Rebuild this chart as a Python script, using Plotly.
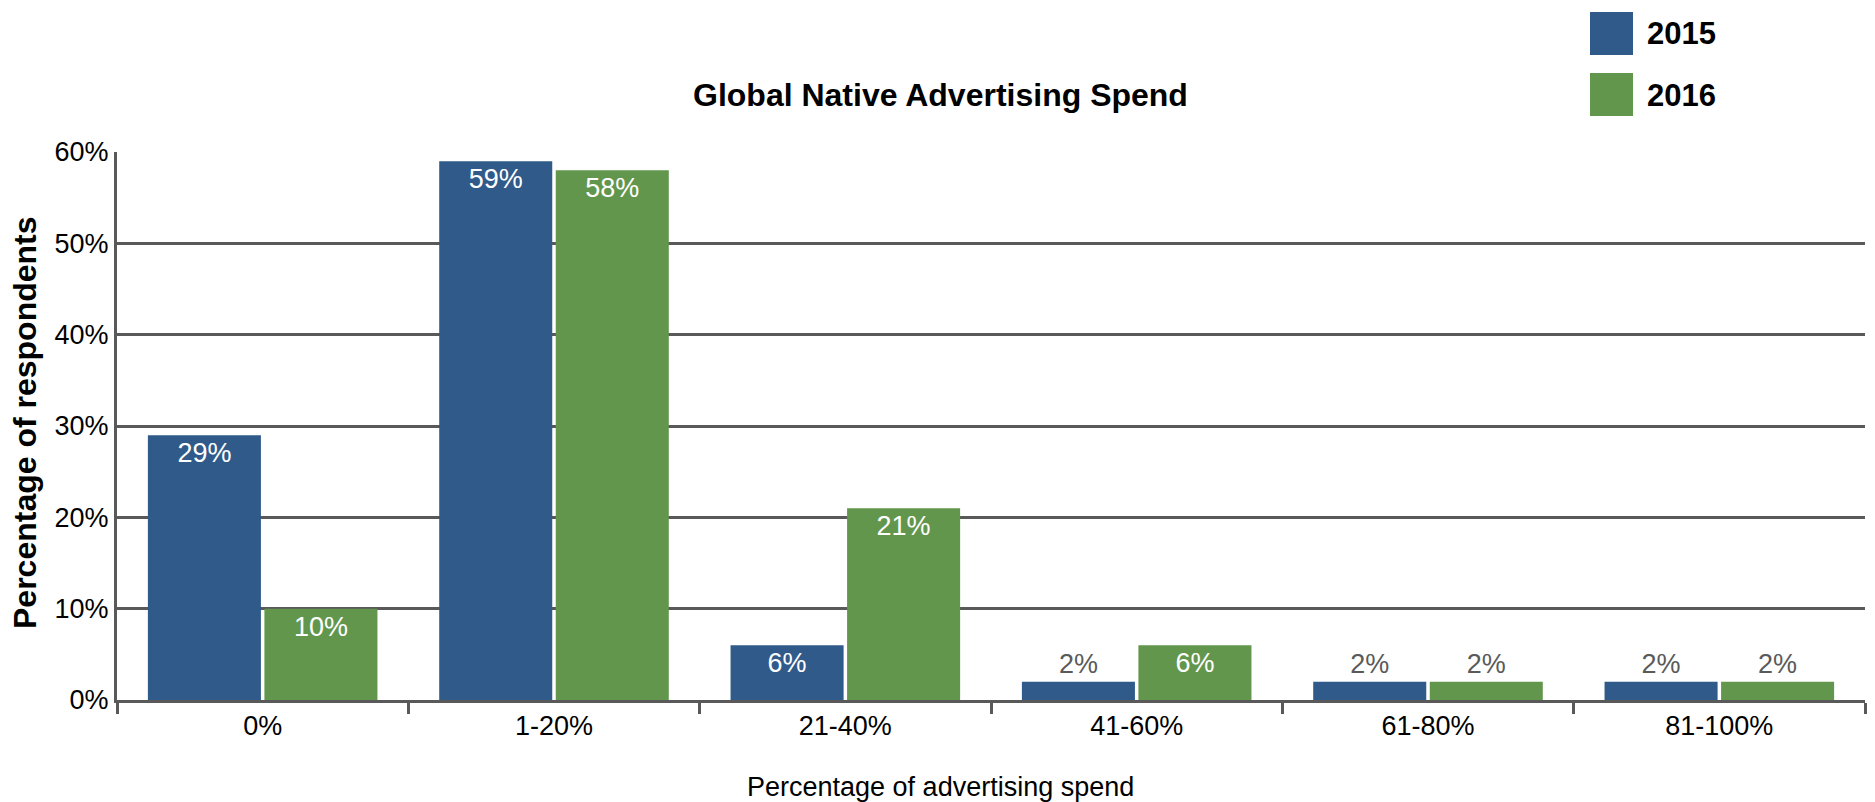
import plotly.graph_objects as go

# Survey data: share of respondents by share of ad budget spent on native advertising
categories = ["0%", "1-20%", "21-40%", "41-60%", "61-80%", "81-100%"]
series_names = ["2015", "2016"]
values_2015 = [29, 59, 6, 2, 2, 2]
values_2016 = [10, 58, 21, 6, 2, 2]
y_ticks = [0, 10, 20, 30, 40, 50, 60]
y_tick_labels = ["0%", "10%", "20%", "30%", "40%", "50%", "60%"]

BLUE = "#2f5a8a"
GREEN = "#62964d"
AXIS = "#595959"
FONT = "Liberation Sans, Arial, Helvetica, sans-serif"

W, H = 1875, 802
L, R, T, B = 117, 10, 152, 102
PW, PH = W - L - R, H - T - B


def px_x(x):
    return (x - L) / PW


def px_y(y):
    return (H - B - y) / PH


fig = go.Figure()
for name, vals, color in [(series_names[0], values_2015, BLUE),
                          (series_names[1], values_2016, GREEN)]:
    fig.add_trace(go.Bar(
        x=categories, y=vals, name=name,
        marker=dict(color=color, line=dict(width=0)),
        text=[f"{v}%" for v in vals],
        textposition="auto",
        insidetextanchor="end",
        textangle=0,
        insidetextfont=dict(color="white", size=27, family=FONT),
        outsidetextfont=dict(color="#5a5a5a", size=27, family=FONT),
        cliponaxis=False,
        showlegend=False,
    ))

# Legend swatches and labels drawn in the top-right corner
shapes = []
annotations = []
for i, (name, color) in enumerate([(series_names[0], BLUE), (series_names[1], GREEN)]):
    top = 12 + i * 61
    shapes.append(dict(type="rect", xref="paper", yref="paper",
                       x0=px_x(1590), x1=px_x(1633),
                       y0=px_y(top + 43), y1=px_y(top),
                       fillcolor=color, line=dict(width=0)))
    annotations.append(dict(text=f"<b>{name}</b>", xref="paper", yref="paper",
                            x=px_x(1645), y=px_y(top + 22), xanchor="left",
                            yanchor="middle", showarrow=False,
                            font=dict(size=31, color="black", family=FONT)))

annotations.append(dict(text="<b>Global Native Advertising Spend</b>",
                        xref="paper", yref="paper", x=px_x(940), y=px_y(95),
                        xanchor="center", yanchor="middle", showarrow=False,
                        font=dict(size=32, color="black", family=FONT)))
annotations.append(dict(text="Percentage of advertising spend",
                        xref="paper", yref="paper", x=px_x(940), y=px_y(787),
                        xanchor="center", yanchor="middle", showarrow=False,
                        font=dict(size=27, color="black", family=FONT)))
annotations.append(dict(text="<b>Percentage of respondents</b>",
                        xref="paper", yref="paper", x=px_x(25), y=px_y(423),
                        xanchor="center", yanchor="middle", showarrow=False,
                        textangle=-90,
                        font=dict(size=32, color="black", family=FONT)))

fig.update_layout(
    width=W, height=H,
    margin=dict(l=L, r=R, t=T, b=B, pad=0),
    paper_bgcolor="white", plot_bgcolor="white",
    barmode="group", bargap=0.2, bargroupgap=0.03,
    font=dict(family=FONT, size=27, color="black"),
    shapes=shapes, annotations=annotations,
    xaxis=dict(showline=True, linewidth=3, linecolor=AXIS,
               ticks="outside", tickson="boundaries", ticklen=11,
               tickwidth=3, tickcolor=AXIS, showgrid=False,
               tickfont=dict(size=27, color="black", family=FONT)),
    yaxis=dict(range=[0, 60], tickvals=y_ticks, ticktext=y_tick_labels,
               showline=True, linewidth=3, linecolor=AXIS,
               showgrid=True, gridwidth=3, gridcolor=AXIS,
               zeroline=False, ticks="",
               tickfont=dict(size=27, color="black", family=FONT)),
)

fig.write_html("out.html")
